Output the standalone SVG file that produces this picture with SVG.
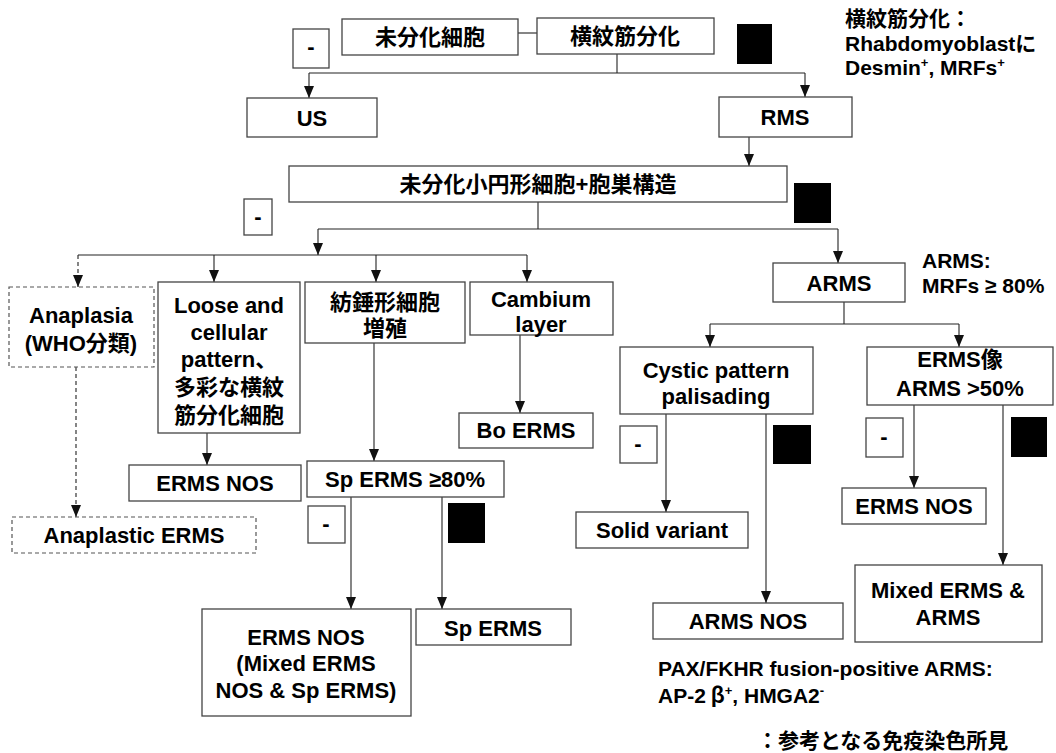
<svg xmlns="http://www.w3.org/2000/svg" width="1056" height="753" viewBox="0 0 1056 753">
<defs>
<marker id="ah" viewBox="0 0 12 10" refX="12" refY="5" markerWidth="12" markerHeight="10" markerUnits="userSpaceOnUse" orient="auto">
<path d="M0,0 L12,5 L0,10 Z" fill="#111"/>
</marker>
<style>
.b{fill:#fff;stroke:#444;stroke-width:1.3}
.d{fill:#fff;stroke:#555;stroke-width:1.2;stroke-dasharray:4 3}
.k{fill:#000}
.t{font-family:"Liberation Sans","Noto Sans CJK JP",sans-serif;font-weight:bold;font-size:22px;fill:#000;text-anchor:middle}
.a{font-family:"Liberation Sans","Noto Sans CJK JP",sans-serif;font-weight:bold;font-size:21px;fill:#000}
.c path{fill:none;stroke:#222;stroke-width:1.1}
.c .ds{stroke-dasharray:4 3}
</style>
</defs>
<rect width="1056" height="753" fill="#fff"/>

<g class="c" id="connectors">
<path d="M518,33 H537"/>
<path d="M617,54 V73"/>
<path d="M309,73 H805"/>
<path marker-end="url(#ah)" d="M309,73 V98"/>
<path marker-end="url(#ah)" d="M805,73 V97"/>
<path marker-end="url(#ah)" d="M749,137 V166"/>
<path d="M538,202 V229"/>
<path d="M318,229 H838"/>
<path marker-end="url(#ah)" d="M318,229 V255"/>
<path marker-end="url(#ah)" d="M838,229 V263"/>
<path d="M78,255 H527"/>
<path class="ds" marker-end="url(#ah)" d="M78,255 V287"/>
<path marker-end="url(#ah)" d="M214,255 V282"/>
<path marker-end="url(#ah)" d="M376,255 V282"/>
<path marker-end="url(#ah)" d="M527,255 V282"/>
<path class="ds" marker-end="url(#ah)" d="M76,367 V517"/>
<path marker-end="url(#ah)" d="M207,433 V465"/>
<path marker-end="url(#ah)" d="M374,343 V461"/>
<path marker-end="url(#ah)" d="M520,335 V413"/>
<path marker-end="url(#ah)" d="M351,497 V609"/>
<path marker-end="url(#ah)" d="M442,497 V609"/>
<path d="M844,302 V324"/>
<path d="M710,324 H959"/>
<path marker-end="url(#ah)" d="M710,324 V347"/>
<path marker-end="url(#ah)" d="M959,324 V347"/>
<path marker-end="url(#ah)" d="M666,414 V512"/>
<path marker-end="url(#ah)" d="M766,414 V603"/>
<path marker-end="url(#ah)" d="M914,405 V488"/>
<path marker-end="url(#ah)" d="M1003,405 V565"/>
</g>

<g id="neg1"><rect class="b" x="293" y="29" width="36" height="39"/><text class="t" x="311" y="54">-</text></g>
<g id="undiff"><rect class="b" x="342" y="19" width="176" height="36"/><text class="t" x="430" y="45">未分化細胞</text></g>
<g id="rhabdo"><rect class="b" x="537" y="18" width="177" height="36"/><text class="t" x="625" y="44">横紋筋分化</text></g>
<g id="pos1"><rect class="k" x="737" y="24" width="35" height="40"/></g>
<g id="note1"><text class="a" x="845" y="26">横紋筋分化：</text><text class="a" x="845" y="51">Rhabdomyoblastに</text><text class="a" x="845" y="75">Desmin<tspan font-size="13" dy="-8">+</tspan><tspan dy="8">, MRFs</tspan><tspan font-size="13" dy="-8">+</tspan></text></g>
<g id="us"><rect class="b" x="247" y="98" width="130" height="39"/><text class="t" x="312" y="126">US</text></g>
<g id="rms"><rect class="b" x="719" y="97" width="133" height="40"/><text class="t" x="785" y="125">RMS</text></g>

<g id="small"><rect class="b" x="289" y="166" width="498" height="36"/><text class="t" x="538" y="192">未分化小円形細胞+胞巣構造</text></g>
<g id="neg2"><rect class="b" x="244" y="199" width="28" height="36"/><text class="t" x="258" y="224">-</text></g>
<g id="pos2"><rect class="k" x="794" y="183" width="37" height="40"/></g>

<g id="anaplasia"><rect class="d" x="9" y="287" width="145" height="80"/><text class="t" x="81" y="323">Anaplasia</text><text class="t" x="81" y="351">(WHO分類)</text></g>
<g id="loose"><rect class="b" x="158" y="282" width="142" height="151"/><text class="t" x="229" y="313">Loose and</text><text class="t" x="229" y="340">cellular</text><text class="t" x="229" y="367">pattern、</text><text class="t" x="229" y="395">多彩な横紋</text><text class="t" x="229" y="423">筋分化細胞</text></g>
<g id="spindle"><rect class="b" x="305" y="282" width="160" height="61"/><text class="t" x="385" y="310" font-size="21">紡錘形細胞</text><text class="t" x="385" y="336" font-size="21">増殖</text></g>
<g id="cambium"><rect class="b" x="470" y="282" width="143" height="53"/><text class="t" x="541" y="307">Cambium</text><text class="t" x="541" y="332">layer</text></g>
<g id="boerms"><rect class="b" x="459" y="413" width="134" height="35"/><text class="t" x="526" y="438">Bo ERMS</text></g>
<g id="ermsnos1"><rect class="b" x="129" y="465" width="172" height="36"/><text class="t" x="215" y="491">ERMS NOS</text></g>
<g id="sp80"><rect class="b" x="307" y="461" width="197" height="36"/><text class="t" x="405" y="487">Sp ERMS ≥80%</text></g>
<g id="neg3"><rect class="b" x="308" y="506" width="37" height="37"/><text class="t" x="326" y="531">-</text></g>
<g id="pos3"><rect class="k" x="448" y="503" width="37" height="40"/></g>
<g id="anaerms"><rect class="d" x="12" y="517" width="244" height="36"/><text class="t" x="134" y="543">Anaplastic ERMS</text></g>
<g id="mixednos"><rect class="b" x="202" y="609" width="209" height="107"/><text class="t" x="306" y="645">ERMS NOS</text><text class="t" x="306" y="671">(Mixed ERMS</text><text class="t" x="306" y="698">NOS &amp; Sp ERMS)</text></g>
<g id="sperms"><rect class="b" x="416" y="609" width="155" height="36"/><text class="t" x="493" y="636">Sp ERMS</text></g>

<g id="arms"><rect class="b" x="773" y="263" width="132" height="39"/><text class="t" x="839" y="291">ARMS</text></g>
<g id="note2"><text class="a" x="922" y="268">ARMS:</text><text class="a" x="922" y="293">MRFs ≥ 80%</text></g>
<g id="cystic"><rect class="b" x="620" y="347" width="193" height="67"/><text class="t" x="716" y="378">Cystic pattern</text><text class="t" x="716" y="404">palisading</text></g>
<g id="ermslike"><rect class="b" x="867" y="347" width="186" height="58"/><text class="t" x="960" y="367">ERMS像</text><text class="t" x="960" y="396">ARMS &gt;50%</text></g>
<g id="neg4"><rect class="b" x="620" y="426" width="37" height="37"/><text class="t" x="638" y="451">-</text></g>
<g id="pos4"><rect class="k" x="773" y="425" width="38" height="39"/></g>
<g id="neg5"><rect class="b" x="866" y="418" width="37" height="39"/><text class="t" x="884" y="444">-</text></g>
<g id="pos5"><rect class="k" x="1011" y="417" width="36" height="40"/></g>
<g id="solid"><rect class="b" x="576" y="512" width="172" height="36"/><text class="t" x="662" y="538">Solid variant</text></g>
<g id="ermsnos2"><rect class="b" x="842" y="488" width="144" height="36"/><text class="t" x="914" y="514">ERMS NOS</text></g>
<g id="armsnos"><rect class="b" x="653" y="603" width="190" height="36"/><text class="t" x="748" y="629">ARMS NOS</text></g>
<g id="mixedarms"><rect class="b" x="855" y="565" width="187" height="77"/><text class="t" x="948" y="598">Mixed ERMS &amp;</text><text class="t" x="948" y="625">ARMS</text></g>
<g id="note3"><text class="a" x="658" y="676">PAX/FKHR fusion-positive ARMS:</text><text class="a" x="658" y="703">AP-2<tspan font-family="Noto Sans CJK JP"> β</tspan><tspan font-size="13" dy="-8">+</tspan><tspan dy="8">, HMGA2</tspan><tspan font-size="13" dy="-8">-</tspan></text></g>
<g id="legend"><text class="a" x="757" y="748">：参考となる免疫染色所見</text></g>
</svg>
